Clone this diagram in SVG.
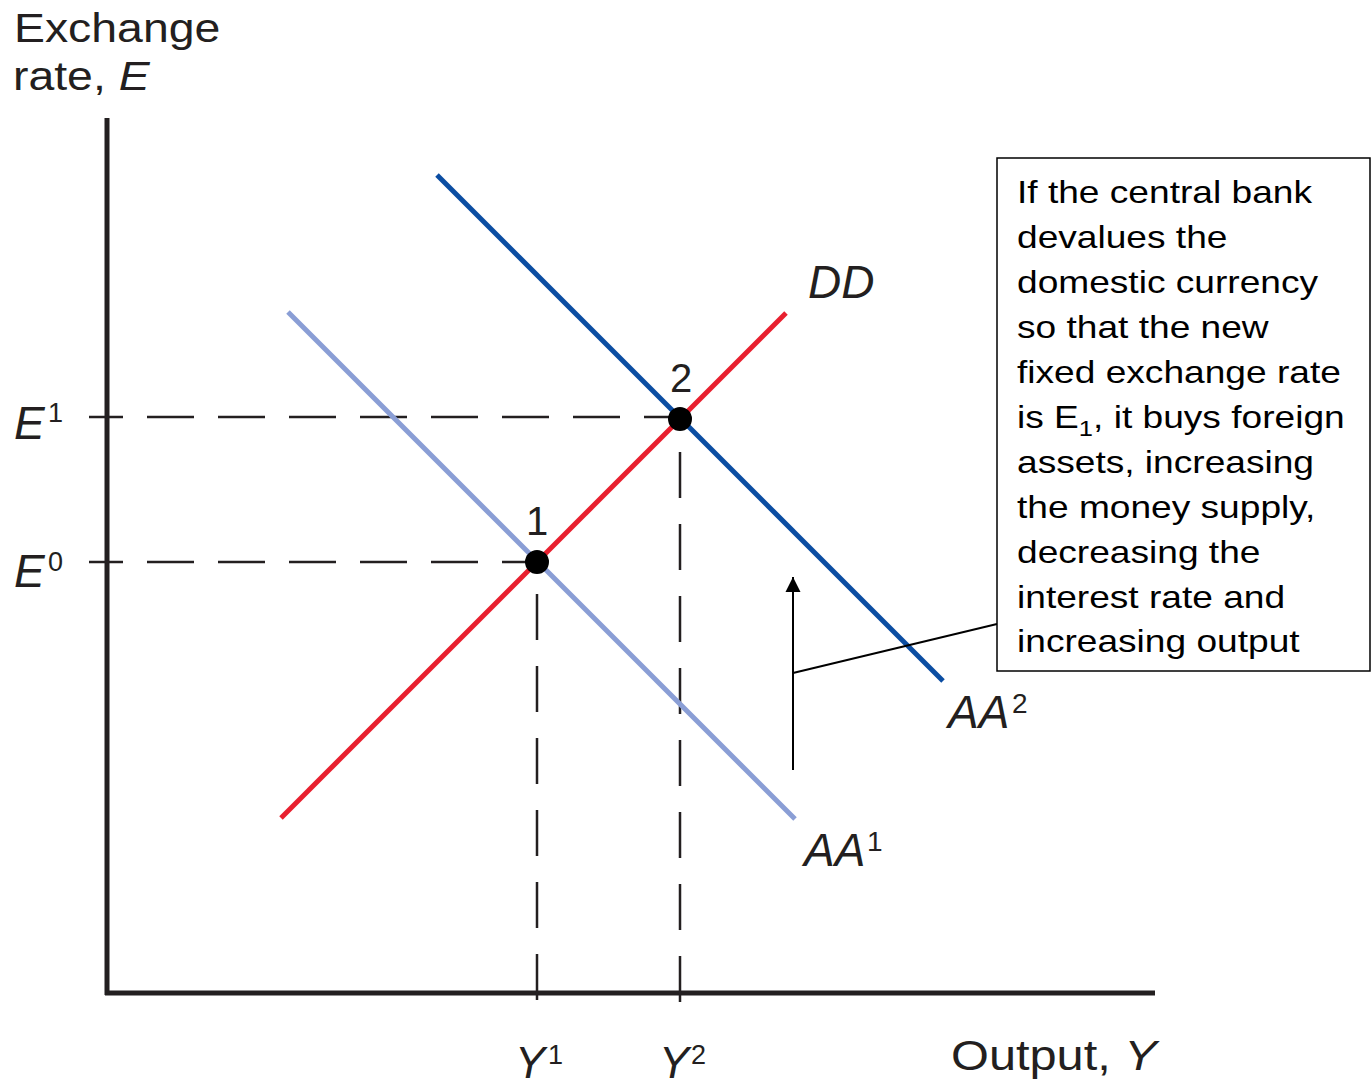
<svg xmlns="http://www.w3.org/2000/svg" width="1372" height="1087" viewBox="0 0 1372 1087">
<defs>
<style>
.lbl{font-family:"Liberation Sans",Arial,sans-serif;fill:#231f20}
.it{font-style:italic}
.dash{stroke:#231f20;stroke-width:2.5;fill:none}
.box{font-family:"Liberation Sans",Arial,sans-serif;font-size:32px;fill:#000}
</style>
<marker id="ah" markerWidth="16" markerHeight="16" refX="15" refY="8" orient="auto" markerUnits="userSpaceOnUse" viewBox="0 0 16 16">
<path d="M0,0.5 L15,8 L0,15.5 Z" fill="#000"/>
</marker>
</defs>
<rect width="1372" height="1087" fill="#fff"/>

<g id="axes">
<line x1="107" y1="118" x2="107" y2="995" stroke="#231f20" stroke-width="5"/>
<line x1="105" y1="993" x2="1155" y2="993" stroke="#231f20" stroke-width="5"/>
<text class="lbl" font-size="40" transform="translate(14,42) scale(1.16 1)">Exchange</text>
<text class="lbl" font-size="40" transform="translate(13,90) scale(1.16 1)">rate, <tspan class="it">E</tspan></text>
<text class="lbl" font-size="42" transform="translate(951,1070) scale(1.16 1)">Output, <tspan class="it">Y</tspan></text>
</g>

<g id="guides">
<line class="dash" x1="89" y1="417" x2="680" y2="417" stroke-dasharray="47 24" stroke-dashoffset="13"/>
<line class="dash" x1="89" y1="562" x2="537" y2="562" stroke-dasharray="47 24" stroke-dashoffset="13"/>
<line class="dash" x1="680" y1="419" x2="680" y2="1010" stroke-dasharray="46 26" stroke-dashoffset="39"/>
<line class="dash" x1="537" y1="562" x2="537" y2="1010" stroke-dasharray="46 26" stroke-dashoffset="40"/>
</g>

<g id="curves">
<line id="AA1" x1="288" y1="312" x2="795" y2="819" stroke="#8A9ED5" stroke-width="5"/>
<line id="AA2" x1="437" y1="175" x2="943" y2="681" stroke="#0B4DA2" stroke-width="5"/>
<line id="DD" x1="281" y1="818" x2="786" y2="313" stroke="#E8202F" stroke-width="5"/>
</g>

<g id="labels">
<text class="lbl it" font-size="46" x="14" y="439">E</text>
<text class="lbl" font-size="27" x="48" y="422">1</text>
<text class="lbl it" font-size="46" x="14" y="587">E</text>
<text class="lbl" font-size="27" x="48" y="571">0</text>
<text class="lbl it" font-size="46" x="808" y="298">DD</text>
<text class="lbl it" font-size="46" x="948" y="728">AA</text>
<text class="lbl" font-size="28" x="1012" y="713">2</text>
<text class="lbl it" font-size="46" x="804" y="866">AA</text>
<text class="lbl" font-size="28" x="867" y="851">1</text>
<text class="lbl it" font-size="45" x="515" y="1078">Y</text>
<text class="lbl" font-size="27" x="548" y="1064">1</text>
<text class="lbl it" font-size="45" x="659" y="1078">Y</text>
<text class="lbl" font-size="27" x="691" y="1064">2</text>
</g>

<g id="point1">
<circle cx="537" cy="562" r="12" fill="#000"/>
<text class="lbl" font-size="40" x="537" y="535" text-anchor="middle">1</text>
</g>
<g id="point2">
<circle cx="680" cy="419" r="12" fill="#000"/>
<text class="lbl" font-size="40" x="681" y="392" text-anchor="middle">2</text>
</g>

<g id="connectors">
<line x1="793" y1="770" x2="793" y2="577" stroke="#000" stroke-width="2" marker-end="url(#ah)"/>
<line x1="793" y1="673" x2="997" y2="624" stroke="#000" stroke-width="2"/>
</g>

<g id="callout">
<rect x="997" y="158" width="373" height="513" fill="#fff" stroke="#000" stroke-width="1.5"/>
<text class="box" transform="translate(1017,0) scale(1.16 1)">
<tspan x="0" y="203">If the central bank</tspan>
<tspan x="0" y="248">devalues the</tspan>
<tspan x="0" y="293">domestic currency</tspan>
<tspan x="0" y="338">so that the new</tspan>
<tspan x="0" y="383">fixed exchange rate</tspan>
<tspan x="0" y="428">is E<tspan font-size="22" dy="8">1</tspan><tspan dy="-8">, it buys foreign</tspan></tspan>
<tspan x="0" y="473">assets, increasing</tspan>
<tspan x="0" y="518">the money supply,</tspan>
<tspan x="0" y="563">decreasing the</tspan>
<tspan x="0" y="608">interest rate and</tspan>
<tspan x="0" y="652">increasing output</tspan>
</text>
</g>
</svg>
